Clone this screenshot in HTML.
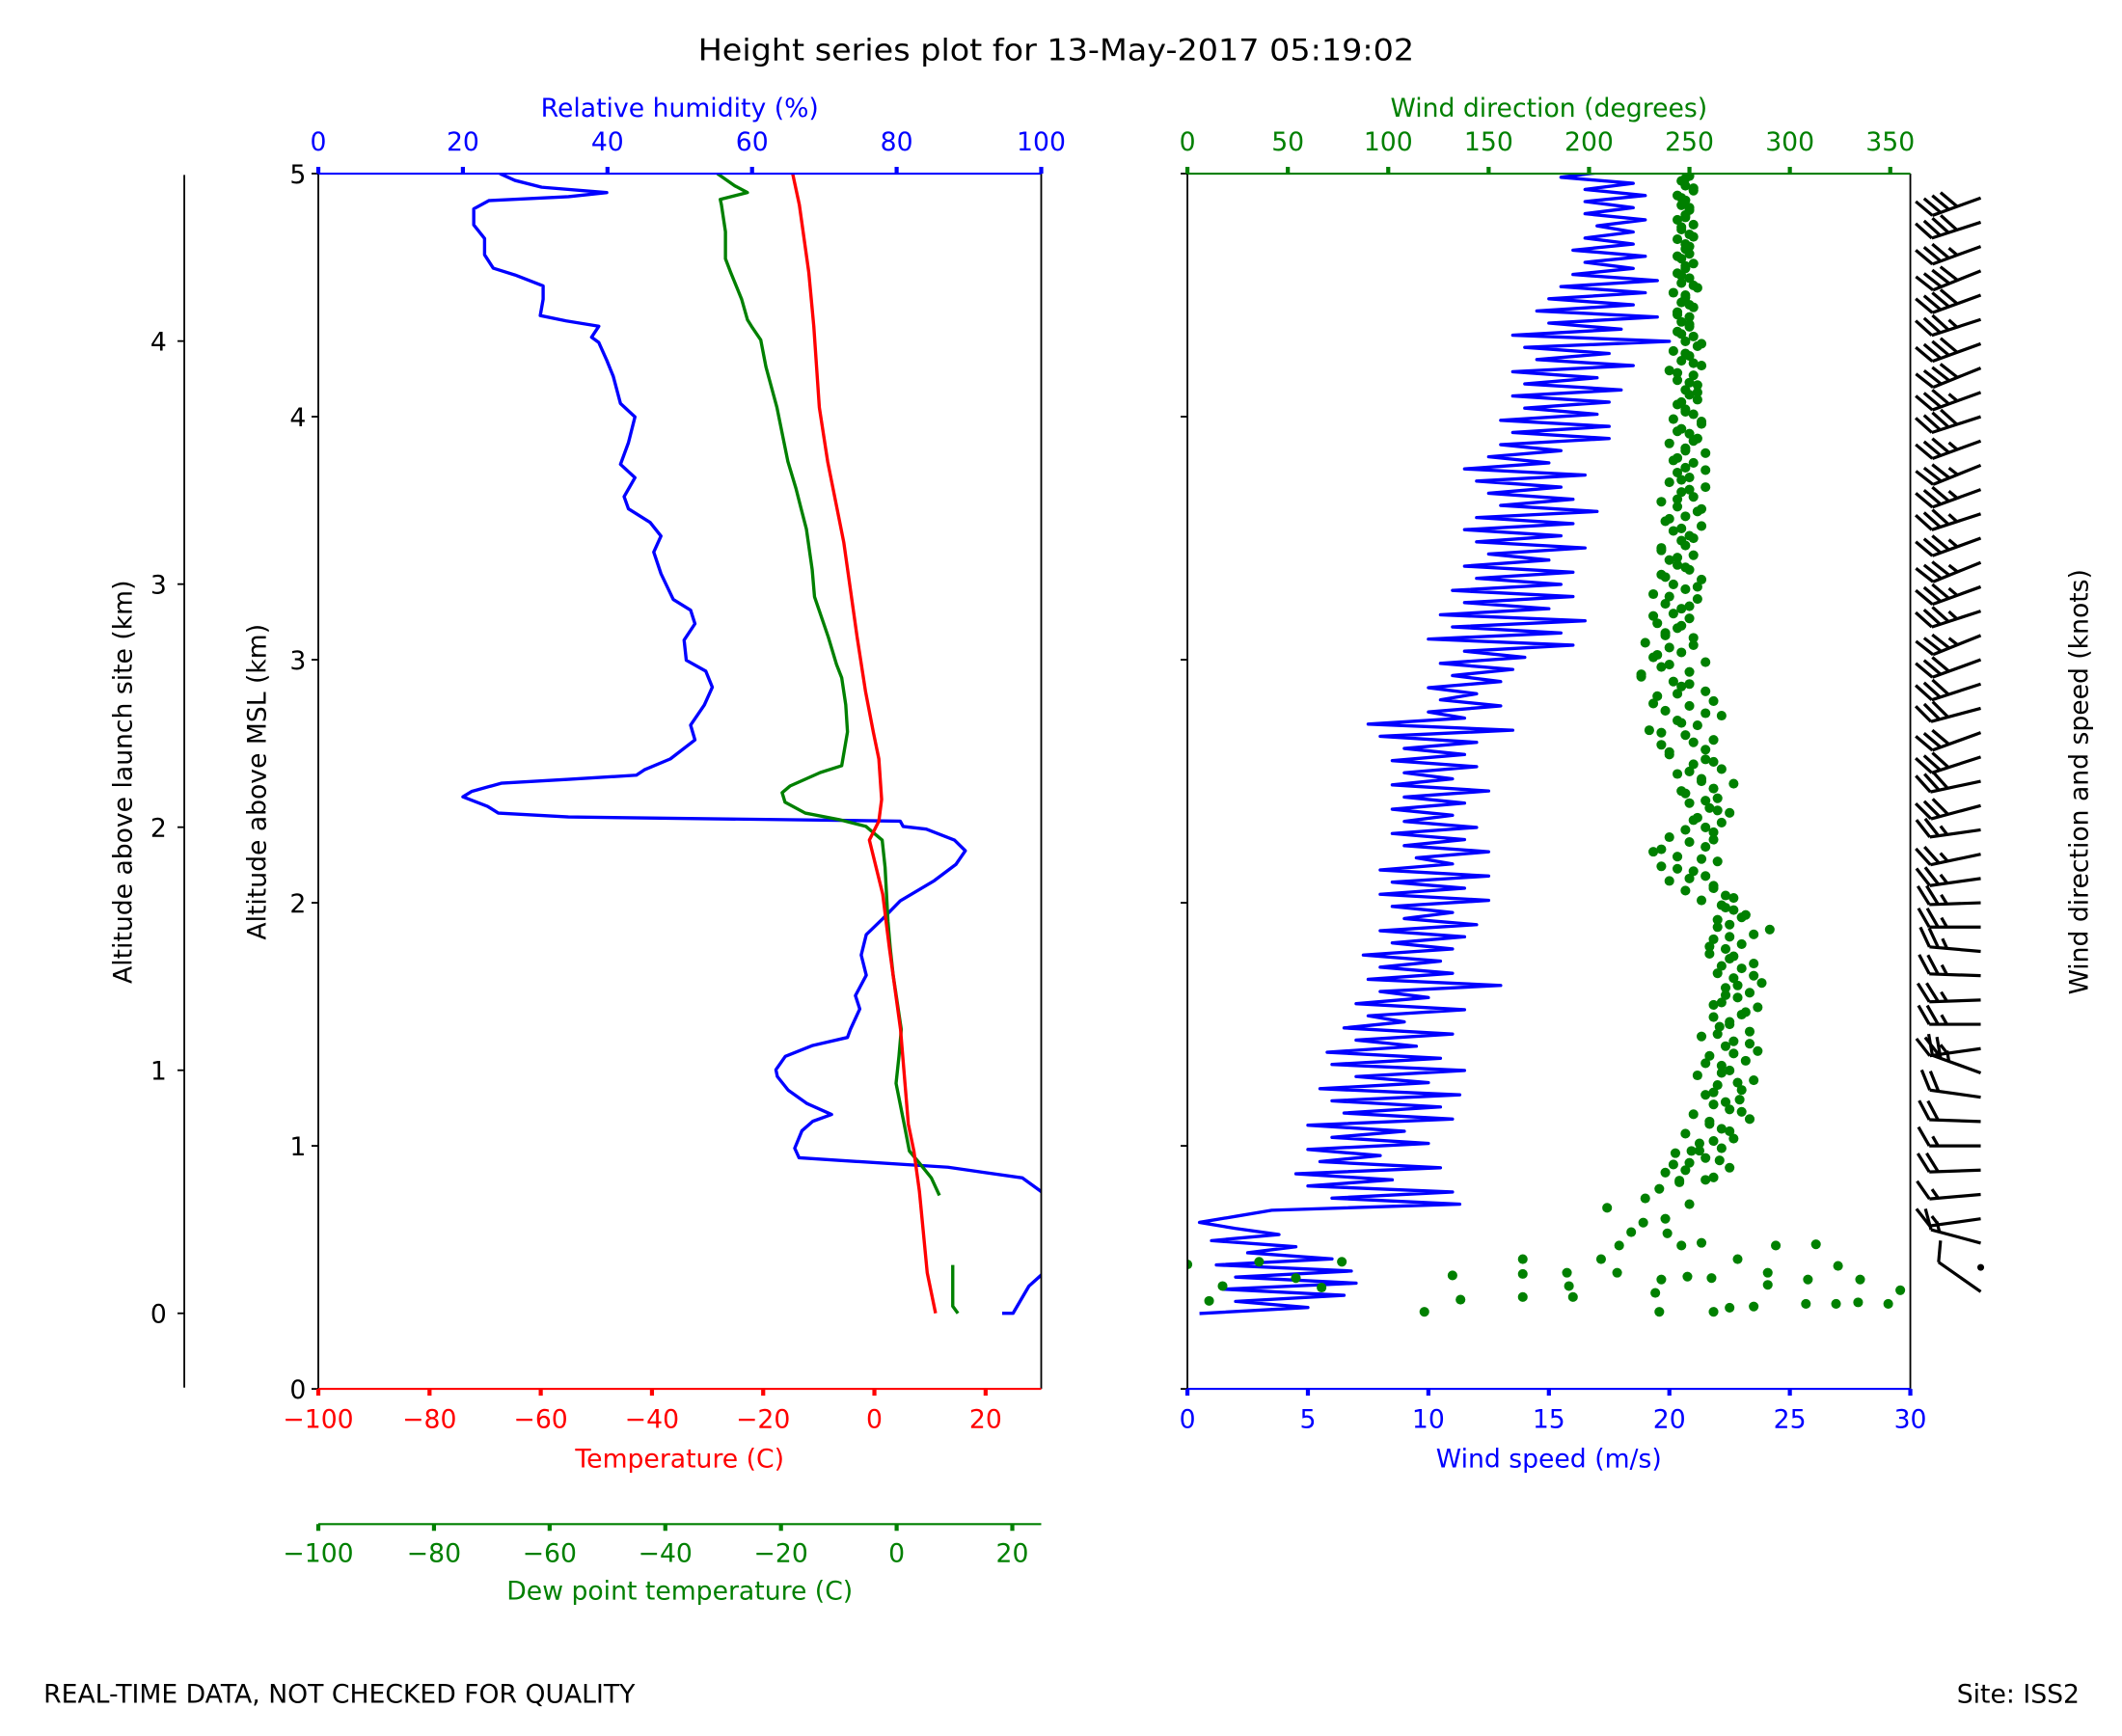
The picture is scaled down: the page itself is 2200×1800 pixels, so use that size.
<!DOCTYPE html>
<html><head><meta charset="utf-8"><style>
html,body{margin:0;padding:0;background:#fff;}
svg{display:block;}
text{font-family:"DejaVu Sans","Liberation Sans",sans-serif;}
</style></head><body>
<svg id="fig" xmlns="http://www.w3.org/2000/svg" width="2200" height="1800" viewBox="-0.14 -1.43 1567.5 1284.2" preserveAspectRatio="none">
<rect x="-10" y="-10" width="1600" height="1320" fill="#fff"/>
<text x="780" y="43" font-size="22.5" text-anchor="middle" textLength="529" lengthAdjust="spacingAndGlyphs">Height series plot for 13-May-2017 05:19:02</text>
<g id="g"></g>
<text x="32" y="1258" font-size="19">REAL-TIME DATA, NOT CHECKED FOR QUALITY</text>
<text x="1536" y="1258" font-size="19" text-anchor="end">Site: ISS2</text>
</svg>
<script>
// ---------- data ----------
const launchAltKm = [0.311];
const tempAlt = [0.311,0.478,0.812,0.979,1.09,1.479,1.813,2.035,2.258,2.336,2.425,2.592,2.703,2.87,3.092,3.482,3.815,4.038,4.372,4.594,4.872,5.0];
const tempVal = [11.0,9.5,8.1,7.1,6.1,4.7,2.7,1.5,-0.9,0.8,1.3,0.8,-0.2,-1.6,-3.1,-5.5,-8.4,-9.9,-10.9,-11.8,-13.5,-14.7];
const dewLowAlt = [0.311,0.34,0.51];
const dewLowVal = [10.6,9.7,9.7];
const dewAlt = [0.796,0.868,0.924,0.979,1.09,1.257,1.368,1.479,1.702,1.813,1.924,2.146,2.258,2.314,2.342,2.369,2.414,2.453,2.481,2.536,2.564,2.703,2.814,2.926,2.981,3.092,3.259,3.37,3.537,3.62,3.704,3.815,4.038,4.205,4.316,4.372,4.399,4.483,4.594,4.65,4.761,4.872,4.894,4.922,4.95,5.0];
const dewVal = [7.4,6.0,4.1,2.2,1.3,-0.1,0.4,0.8,-0.6,-1.1,-1.5,-2.0,-2.5,-5.3,-9.9,-15.8,-19.3,-19.8,-18.4,-13.2,-9.5,-8.5,-8.8,-9.5,-10.4,-11.8,-14.2,-14.6,-15.6,-16.5,-17.4,-18.8,-20.7,-22.6,-23.5,-25.1,-25.8,-26.8,-28.7,-29.6,-29.6,-30.3,-30.5,-25.8,-28.0,-31.0];
const rhAlt = [0.311,0.311,0.423,0.495,0.65,0.812,0.868,0.912,0.94,0.951,0.99,1.062,1.101,1.129,1.174,1.229,1.285,1.313,1.368,1.413,1.446,1.479,1.563,1.618,1.702,1.785,1.869,1.935,2.008,2.091,2.158,2.214,2.258,2.303,2.314,2.336,2.353,2.369,2.397,2.436,2.458,2.492,2.508,2.525,2.547,2.592,2.67,2.731,2.814,2.887,2.953,2.998,3.081,3.148,3.204,3.248,3.354,3.443,3.509,3.565,3.621,3.671,3.749,3.804,3.893,3.999,4.054,4.166,4.232,4.305,4.327,4.372,4.394,4.416,4.483,4.538,4.583,4.611,4.666,4.733,4.789,4.855,4.889,4.905,4.922,4.944,4.972,5.0];
const rhVal = [94.6,96.1,98.3,101,110,100,97.4,87.1,72.1,66.5,65.9,66.9,68.4,71.0,67.6,65.0,63.5,63.3,64.6,68.4,73.2,73.6,74.9,74.3,75.8,75.1,75.8,78.1,80.5,85.2,88.2,89.5,88.0,84.1,80.9,80.5,34.6,24.9,23.4,20.0,21.2,25.3,34.6,44.0,45.1,48.7,52.1,51.5,53.4,54.5,53.6,50.9,50.6,52.1,51.5,49.1,47.4,46.4,47.4,45.9,42.9,42.3,43.8,41.8,42.9,43.8,41.8,40.8,39.9,38.8,37.8,38.8,34.3,30.7,31.1,31.1,27.2,24.2,23.0,23.0,21.5,21.5,23.6,34.6,39.9,30.9,27.2,25.1];
const spdStartAlt = [0.31];
const spdStepAlt = [0.025];
const spdVal = [0.5,5.0,2.0,6.5,1.5,7.0,2.0,6.8,1.2,6.0,2.5,4.5,1.0,3.8,2.0,0.5,2.0,3.5,11.3,6.0,11.0,5.0,8.5,4.5,10.5,5.5,8.0,5.0,10.0,6.0,9.0,5.0,11.0,6.5,10.5,6.0,11.3,5.5,10.0,7.0,11.5,6.0,10.5,5.8,9.5,7.0,11.0,6.5,9.0,7.5,11.5,7.0,10.0,8.0,13.0,7.5,11.0,8.0,10.5,7.3,11.0,8.5,11.5,8.0,12.0,9.0,11.0,8.5,12.5,8.0,11.5,8.5,12.5,8.0,11.0,9.5,12.5,9.0,11.5,8.5,12.0,9.0,11.0,8.5,11.5,9.0,12.5,8.5,11.0,9.0,12.0,8.5,11.5,9.0,12.0,8.0,13.5,7.5,11.5,10.0,13.0,10.5,12.0,10.0,13.0,11.0,13.5,10.5,14.0,11.5,16.0,10.0,15.5,11.0,16.5,10.5,15.0,11.5,16.0,11.0,15.5,12.0,16.0,11.5,15.0,12.5,16.5,12.0,15.5,11.5,16.0,12.0,17.0,13.0,16.0,12.5,15.5,12.0,16.5,11.5,15.0,12.5,15.5,13.0,17.5,13.5,17.5,13.0,17.0,14.0,17.5,13.5,18.0,14.0,17.0,13.5,18.5,14.5,17.5,14.0,20.0,13.5,18.0,15.0,19.5,14.5,18.5,15.0,19.0,15.5,19.5,16.0,18.5,16.5,19.0,16.0,18.5,16.5,18.5,17.0,19.0,16.5,18.5,16.5,19.0,16.5,18.5,15.5,17.5];
const dirLowAlt = [0.512,0.362,0.423,0.523,0.456,0.417,0.523,0.317,0.467,0.367,0.534,0.473,0.378,0.478,0.423,0.378,0.534,0.478,0.59,0.395,0.317,0.45,0.59,0.462,0.601,0.456,0.317,0.334,0.534,0.339,0.478,0.428,0.59,0.35,0.45,0.595,0.35,0.506,0.356,0.45,0.35,0.406,0.645,0.684,0.64,0.745,0.784,0.823,0.857,0.923,0.979,0.70,0.76];
const dirLowVal = [0,10.8,17.5,35.7,54,66.8,76.9,118,132,136,167,167,167,189,190,192,206,214,215,233,235,236,246,249,256,261,262,270,274,282,289,289,293,308,309,313,323,324,334,335,349,355,221,227,239,209,228,235,245,242,251,238,250];
const dirStartAlt = [0.85];
const dirStepAlt = [0.02];
const dirVal = [245,262,238,270,250,258,243,266,255,272,248,266,260,280,252,270,262,275,258,276,264,282,254,270,266,278,260,284,268,272,256,280,265,270,262,278,284,266,274,280,268,286,272,264,276,282,270,260,268,276,262,282,290,270,264,278,272,266,256,268,248,262,240,258,252,236,264,244,232,258,250,240,262,258,266,254,270,260,250,264,248,262,272,256,244,266,252,258,240,258,236,262,248,230,254,244,266,238,250,262,234,258,246,242,226,250,236,258,232,246,240,228,252,238,244,234,250,242,246,238,254,232,248,242,256,236,250,244,240,252,236,248,246,250,242,256,238,248,254,244,236,252,246,258,240,250,244,248,252,244,258,248,240,254,250,246,256,242,252,248,244,254,250,248,254,244,252,240,256,246,250,242,254,248,252,244,250,246,250,244,252,246,248,242,254,246,250,244,248,252,246,250,248,248,244,250,246,252,244,248,250,246,248,244,252,248,246,250];
const dirVal2 = [258,248,265,255,262,270,260,276,268,262,274,266,258,272,280,264,270,276,262,268,274,282,266,272,260,270,264,276,268,272,262,250,244,256,236,262,248,252,264,258,246,256,250,262,240,252,236,246,258,232,244,250,226,240,234,252,238,246,232,250,240,254,238,248,244,236,252,246,240,256,244,250,246,258,242,248,252,244,256,248,246,254,250,244,252,248,256,246,250,244,250,248,252,246,248,244,250,252,246,248,250,246,252,248,244,250];
const barbAlt = [0.4,0.5,0.6,0.7,0.8,0.9,1.0,1.1,1.2,1.3,1.4,1.5,1.6,1.7,1.8,1.9,2.0,2.1,2.2,2.3,2.4,2.5,2.6,2.7,2.8,2.9,3.0,3.1,3.2,3.3,3.4,3.5,3.6,3.7,3.8,3.9,4.0,4.1,4.2,4.3,4.4,4.5,4.6,4.7,4.8,4.9];
const barbDir = [305,0,285,262,265,268,270,272,278,290,262,270,268,272,275,270,268,262,258,262,255,258,252,250,255,252,250,248,252,250,248,250,252,250,248,250,252,250,248,250,252,250,248,250,252,250];
const barbKts = [10,0,15,15,15,20,15,20,20,25,25,25,25,25,25,25,25,25,25,25,30,30,30,30,30,30,30,35,35,35,35,35,35,35,35,35,40,35,40,40,35,40,40,35,40,40];
const mslTicks = [0,1,2,3,4,5];
const siteTicks = [0,1,2,3,4];
const rhTicks = [0,20,40,60,80,100];
const tTicks = [-100,-80,-60,-40,-20,0,20];
const tdTicks = [-100,-80,-60,-40,-20,0,20];
const wsTicks = [0,5,10,15,20,25,30];
const wdTicks = [0,50,100,150,200,250,300,350];

// ---------- scales ----------
const L={x0:235,x1:769}, R={x0:877,x1:1411}, Y0=1026, Y1=127;
const yA=a=>Y0-(a/5)*(Y0-Y1);
const xT=t=>L.x0+(t+100)/130*(L.x1-L.x0);
const xTd=t=>L.x0+(t+100)/125*(L.x1-L.x0);
const xRH=r=>L.x0+r/100*(L.x1-L.x0);
const xWS=s=>R.x0+s/30*(R.x1-R.x0);
const xWD=d=>R.x0+d/360*(R.x1-R.x0);
const NS='http://www.w3.org/2000/svg';
const G=document.getElementById('g');
function mk(tag,at,parent){const e=document.createElementNS(NS,tag);for(const k in at)e.setAttribute(k,at[k]);(parent||G).appendChild(e);return e;}
function txt(s,at){const e=mk('text',at);e.textContent=s;return e;}
const fmt=v=>v<0?'\u2212'+Math.abs(v):String(v);

const defs=mk('defs',{});
const c1=mk('clipPath',{id:'clipL'},defs);mk('rect',{x:L.x0,y:Y1,width:L.x1-L.x0,height:Y0-Y1},c1);
const c2=mk('clipPath',{id:'clipR'},defs);mk('rect',{x:R.x0,y:Y1,width:R.x1-R.x0,height:Y0-Y1},c2);

function line(xs,ys,fx,color,clip,name){
  const p=xs.map((v,i)=>fx(v).toFixed(2)+','+yA(ys[i]).toFixed(2)).join(' ');
  const e=mk('polyline',{points:p,fill:'none',stroke:color,'stroke-width':2.4,'stroke-linejoin':'round','clip-path':'url(#'+clip+')'});
  
  
}
line(rhVal,rhAlt,xRH,'#0000ff','clipL','rh-line');
line(dewLowVal,dewLowAlt,xTd,'#008000','clipL','dewpoint-line-low');
line(dewVal,dewAlt,xTd,'#008000','clipL','dewpoint-line');
line(tempVal,tempAlt,xT,'#ff0000','clipL','temperature-line');
const spdAlt=spdVal.map((v,i)=>spdStartAlt[0]+i*spdStepAlt[0]);
line(spdVal,spdAlt,xWS,'#0000ff','clipR','wind-speed-line');
function dots(vals,alts,name){
  vals.forEach((d,i)=>{const c=mk('circle',{cx:xWD(d).toFixed(2),cy:yA(alts[i]).toFixed(2),r:3.6,fill:'#008000','clip-path':'url(#clipR)'});
    
    });
}
dots(dirLowVal,dirLowAlt,'wind-direction-point');
dots(dirVal,dirVal.map((v,i)=>dirStartAlt[0]+i*dirStepAlt[0]),'wind-direction-point');
dots(dirVal2,dirVal2.map((v,i)=>0.86+i*0.04),'wind-direction-point');

function ln(x1,y1,x2,y2,c,w,name){const e=mk('line',{x1,y1,x2,y2,stroke:c,'stroke-width':w});
  
  return e;}
ln(L.x0,Y1,L.x0,Y0,'#000',1.3,'left-panel-left-spine');
ln(L.x1,Y1,L.x1,Y0,'#000',1.3,'left-panel-right-spine');
ln(L.x0,Y1,L.x1,Y1,'#0000ff',1.5,'rh-axis-spine');
ln(L.x0,Y0,L.x1,Y0,'#ff0000',1.5,'temperature-axis-spine');
ln(L.x0,1126,L.x1,1126,'#008000',1.5,'dewpoint-axis-spine');
ln(R.x0,Y1,R.x0,Y0,'#000',1.3,'right-panel-left-spine');
ln(R.x1,Y1,R.x1,Y0,'#000',1.3,'right-panel-right-spine');
ln(R.x0,Y1,R.x1,Y1,'#008000',1.5,'wind-direction-axis-spine');
ln(R.x0,Y0,R.x1,Y0,'#0000ff',1.5,'wind-speed-axis-spine');
ln(136,128,136,1025,'#000',1.3,'launch-site-axis-spine');

const FS=19;
mslTicks.forEach(v=>{const y=yA(v);ln(L.x0-5,y,L.x0,y,'#000',1.3,'msl-tick');ln(R.x0-5,y,R.x0,y,'#000',1.3,'right-msl-tick');
  const t=txt(String(v),{x:L.x0-9,y:y+7,'font-size':FS,'text-anchor':'end'});
  });
siteTicks.forEach(v=>{const y=yA(v+launchAltKm[0]);ln(131,y,136,y,'#000',1.3,'site-tick');
  const t=txt(String(v),{x:123,y:y+7,'font-size':FS,'text-anchor':'end'});
  });
rhTicks.forEach(v=>{const x=xRH(v);ln(x,Y1-5,x,Y1,'#0000ff',3,'rh-tick');
  const t=txt(String(v),{x,y:Y1-17,'font-size':FS,'text-anchor':'middle',fill:'#0000ff'});
  });
tTicks.forEach(v=>{const x=xT(v);ln(x,Y0,x,Y0+5,'#ff0000',3,'temperature-tick');
  const t=txt(fmt(v),{x,y:Y0+29,'font-size':FS,'text-anchor':'middle',fill:'#ff0000'});
  });
tdTicks.forEach(v=>{const x=xTd(v);ln(x,1126,x,1131,'#008000',3,'dewpoint-tick');
  const t=txt(fmt(v),{x,y:1154,'font-size':FS,'text-anchor':'middle',fill:'#008000'});
  });
wsTicks.forEach(v=>{const x=xWS(v);ln(x,Y0,x,Y0+5,'#0000ff',3,'wind-speed-tick');
  const t=txt(String(v),{x,y:Y0+29,'font-size':FS,'text-anchor':'middle',fill:'#0000ff'});
  });
wdTicks.forEach(v=>{const x=xWD(v);ln(x,Y1-5,x,Y1,'#008000',3,'wind-direction-tick');
  const t=txt(String(v),{x,y:Y1-17,'font-size':FS,'text-anchor':'middle',fill:'#008000'});
  });

function title(s,x,y,col,rot,name){const at={x,y,'font-size':FS,'text-anchor':'middle',fill:col};if(rot)at.transform='rotate(-90 '+x+' '+y+')';
  const t=txt(s,at);}
title('Relative humidity (%)',502,85,'#0000ff',0,'rh-axis-title');
title('Wind direction (degrees)',1144,85,'#008000',0,'wind-direction-axis-title');
title('Temperature (C)',502,1084,'#ff0000',0,'temperature-axis-title');
title('Dew point temperature (C)',502,1182,'#008000',0,'dewpoint-axis-title');
title('Wind speed (m/s)',1144,1084,'#0000ff',0,'wind-speed-axis-title');
title('Altitude above launch site (km)',97,577,'#000',1,'launch-site-axis-title');
title('Altitude above MSL (km)',196,577,'#000',1,'msl-axis-title');
title('Wind direction and speed (knots)',1542,577,'#000',1,'barb-axis-title');

// wind barbs
const BX=1463, SL=38, FL=16, SP=6.5;
barbAlt.forEach((a,i)=>{
  const y=yA(a), d=barbDir[i]*Math.PI/180, k=barbKts[i];
  const g=mk('g',{stroke:'#000','stroke-width':2.3,fill:'none','stroke-linecap':'butt'});
  
  
  if(k<2.5){mk('circle',{cx:BX,cy:y,r:2.5,fill:'#000',stroke:'none'},g);return;}
  const ux=Math.sin(d), uy=-Math.cos(d);
  const tx=BX+ux*SL, ty=y+uy*SL;
  mk('line',{x1:BX,y1:y,x2:tx.toFixed(2),y2:ty.toFixed(2)},g);
  const px=-uy, py=ux;
  const fx=px*0.87+ux*0.5, fy=py*0.87+uy*0.5;
  let full=Math.floor(k/10), half=(k%10)>=5?1:0, pos=0;
  for(let j=0;j<full;j++){const sx=tx-ux*pos, sy=ty-uy*pos;
    mk('line',{x1:sx.toFixed(2),y1:sy.toFixed(2),x2:(sx+fx*FL).toFixed(2),y2:(sy+fy*FL).toFixed(2)},g);pos+=SP;}
  if(half){if(full===0)pos+=SP;const sx=tx-ux*pos, sy=ty-uy*pos;
    mk('line',{x1:sx.toFixed(2),y1:sy.toFixed(2),x2:(sx+fx*FL/2).toFixed(2),y2:(sy+fy*FL/2).toFixed(2)},g);}
});
</script>
</body></html>
